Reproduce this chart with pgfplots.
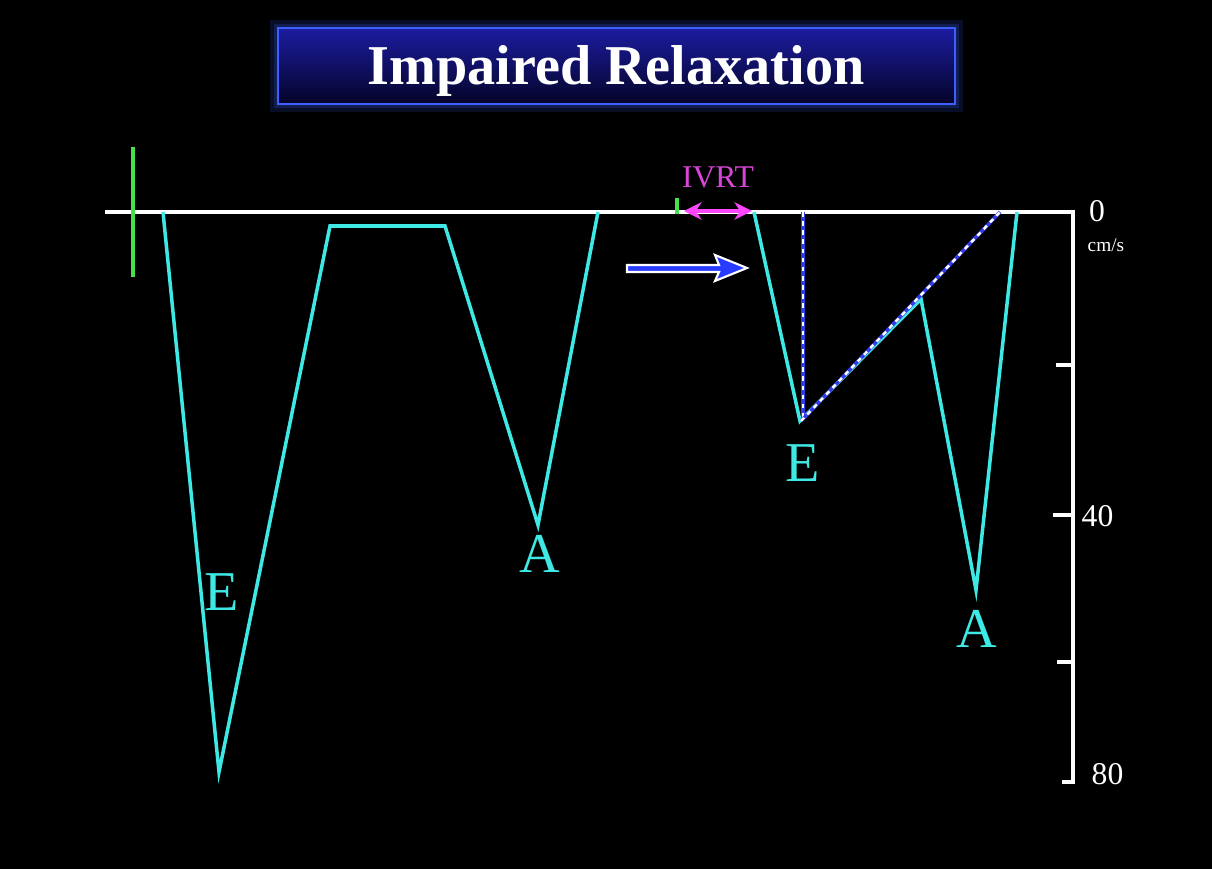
\documentclass[border=0pt]{standalone}
\usepackage{pgfplots}
\pgfplotsset{compat=1.18}
\usepackage{fontspec}
\setmainfont{Liberation Serif}
\usetikzlibrary{arrows.meta}
\definecolor{trace}{RGB}{62,232,228}
\definecolor{ivrt}{RGB}{255,70,255}
\definecolor{ivrttext}{RGB}{215,70,215}
\definecolor{arrowblue}{RGB}{40,60,255}
\definecolor{mygreen}{RGB}{70,225,70}
\definecolor{boxtop}{RGB}{28,28,160}
\definecolor{boxbot}{RGB}{4,4,40}
\definecolor{boxedge}{RGB}{60,95,255}
\definecolor{dashblue}{RGB}{50,60,235}
\begin{document}
\begin{tikzpicture}
\begin{axis}[width=12.12cm,height=8.69cm,scale only axis,
  xmin=0,xmax=1212,ymin=0,ymax=869,y dir=reverse,hide axis,clip=false]
\fill[black] (axis cs:0,0) rectangle (axis cs:1212,869);
% title box
\fill[boxedge,opacity=0.15] (axis cs:270,20) rectangle (axis cs:963,112);
\fill[boxedge,opacity=0.2] (axis cs:274,24) rectangle (axis cs:959,108);
\shade[top color=boxtop,bottom color=boxbot] (axis cs:278,28) rectangle (axis cs:955,104);
\draw[boxedge,line width=0.7pt] (axis cs:278,28) rectangle (axis cs:955,104);
\node[anchor=base,text=white,font=\fontsize{16}{19}\selectfont\bfseries] at (axis cs:616,85) {Impaired Relaxation};
% axes
\addplot[white,line width=1.1pt] coordinates {(105,212) (1073,212) (1073,782) (1062,782)};
\addplot[white,line width=0.9pt] coordinates {(1056,365) (1073,365)};
\addplot[white,line width=0.9pt] coordinates {(1053,515) (1073,515)};
\addplot[white,line width=0.9pt] coordinates {(1057,662) (1073,662)};
\node[anchor=base,text=white,font=\fontsize{9}{11}\selectfont] at (axis cs:1097,222) {0};
\node[anchor=base west,inner sep=0pt,text=white,font=\fontsize{5.5}{7}\selectfont] at (axis cs:1087,252) {cm/s};
\node[anchor=base west,inner sep=0pt,text=white,font=\fontsize{9}{11}\selectfont] at (axis cs:1081,527) {40};
\node[anchor=base west,inner sep=0pt,text=white,font=\fontsize{9}{11}\selectfont] at (axis cs:1091,784) {80};
% green markers
\addplot[mygreen,line width=1.1pt] coordinates {(133,147) (133,277)};
\addplot[mygreen,line width=1pt] coordinates {(677,198) (677,214)};
% traces
\addplot[trace,line width=1pt] coordinates {(163,212) (219,772) (330,226) (445,226) (538,525) (598,212)};
\addplot[trace,line width=1pt] coordinates {(754,212) (800,421) (921,299) (976,590) (1017,212)};
% dashed guides
\addplot[dashblue,line width=1pt] coordinates {(803,212) (803,418)};
\addplot[white,line width=0.7pt,dash pattern=on 1.3pt off 1.3pt] coordinates {(803,212) (803,418)};
\addplot[dashblue,line width=1pt] coordinates {(801,421) (1000,212)};
\addplot[white,line width=0.7pt,dash pattern=on 1.3pt off 1.3pt] coordinates {(801,421) (1000,212)};
% IVRT
\addplot[ivrt,line width=1.2pt,{Stealth[length=5pt,width=5pt]}-{Stealth[length=5pt,width=5pt]}] coordinates {(684,211) (752,211)};
\node[anchor=base,text=ivrttext,font=\fontsize{9}{11}\selectfont] at (axis cs:718,188) {IVRT};
% blue arrow
\addplot[fill=arrowblue,draw=white,line width=0.6pt] coordinates {(627,265) (719,265) (715,255) (747,268) (715,281) (719,272) (627,272)} -- cycle;
% labels
\node[anchor=base,text=trace,font=\fontsize{16}{19}\selectfont] at (axis cs:222,610) {E};
\node[anchor=base,text=trace,font=\fontsize{16}{19}\selectfont] at (axis cs:540,572) {A};
\node[anchor=base,text=trace,font=\fontsize{16}{19}\selectfont] at (axis cs:803,482) {E};
\node[anchor=base,text=trace,font=\fontsize{16}{19}\selectfont] at (axis cs:977,647) {A};
\end{axis}
\end{tikzpicture}
\end{document}
